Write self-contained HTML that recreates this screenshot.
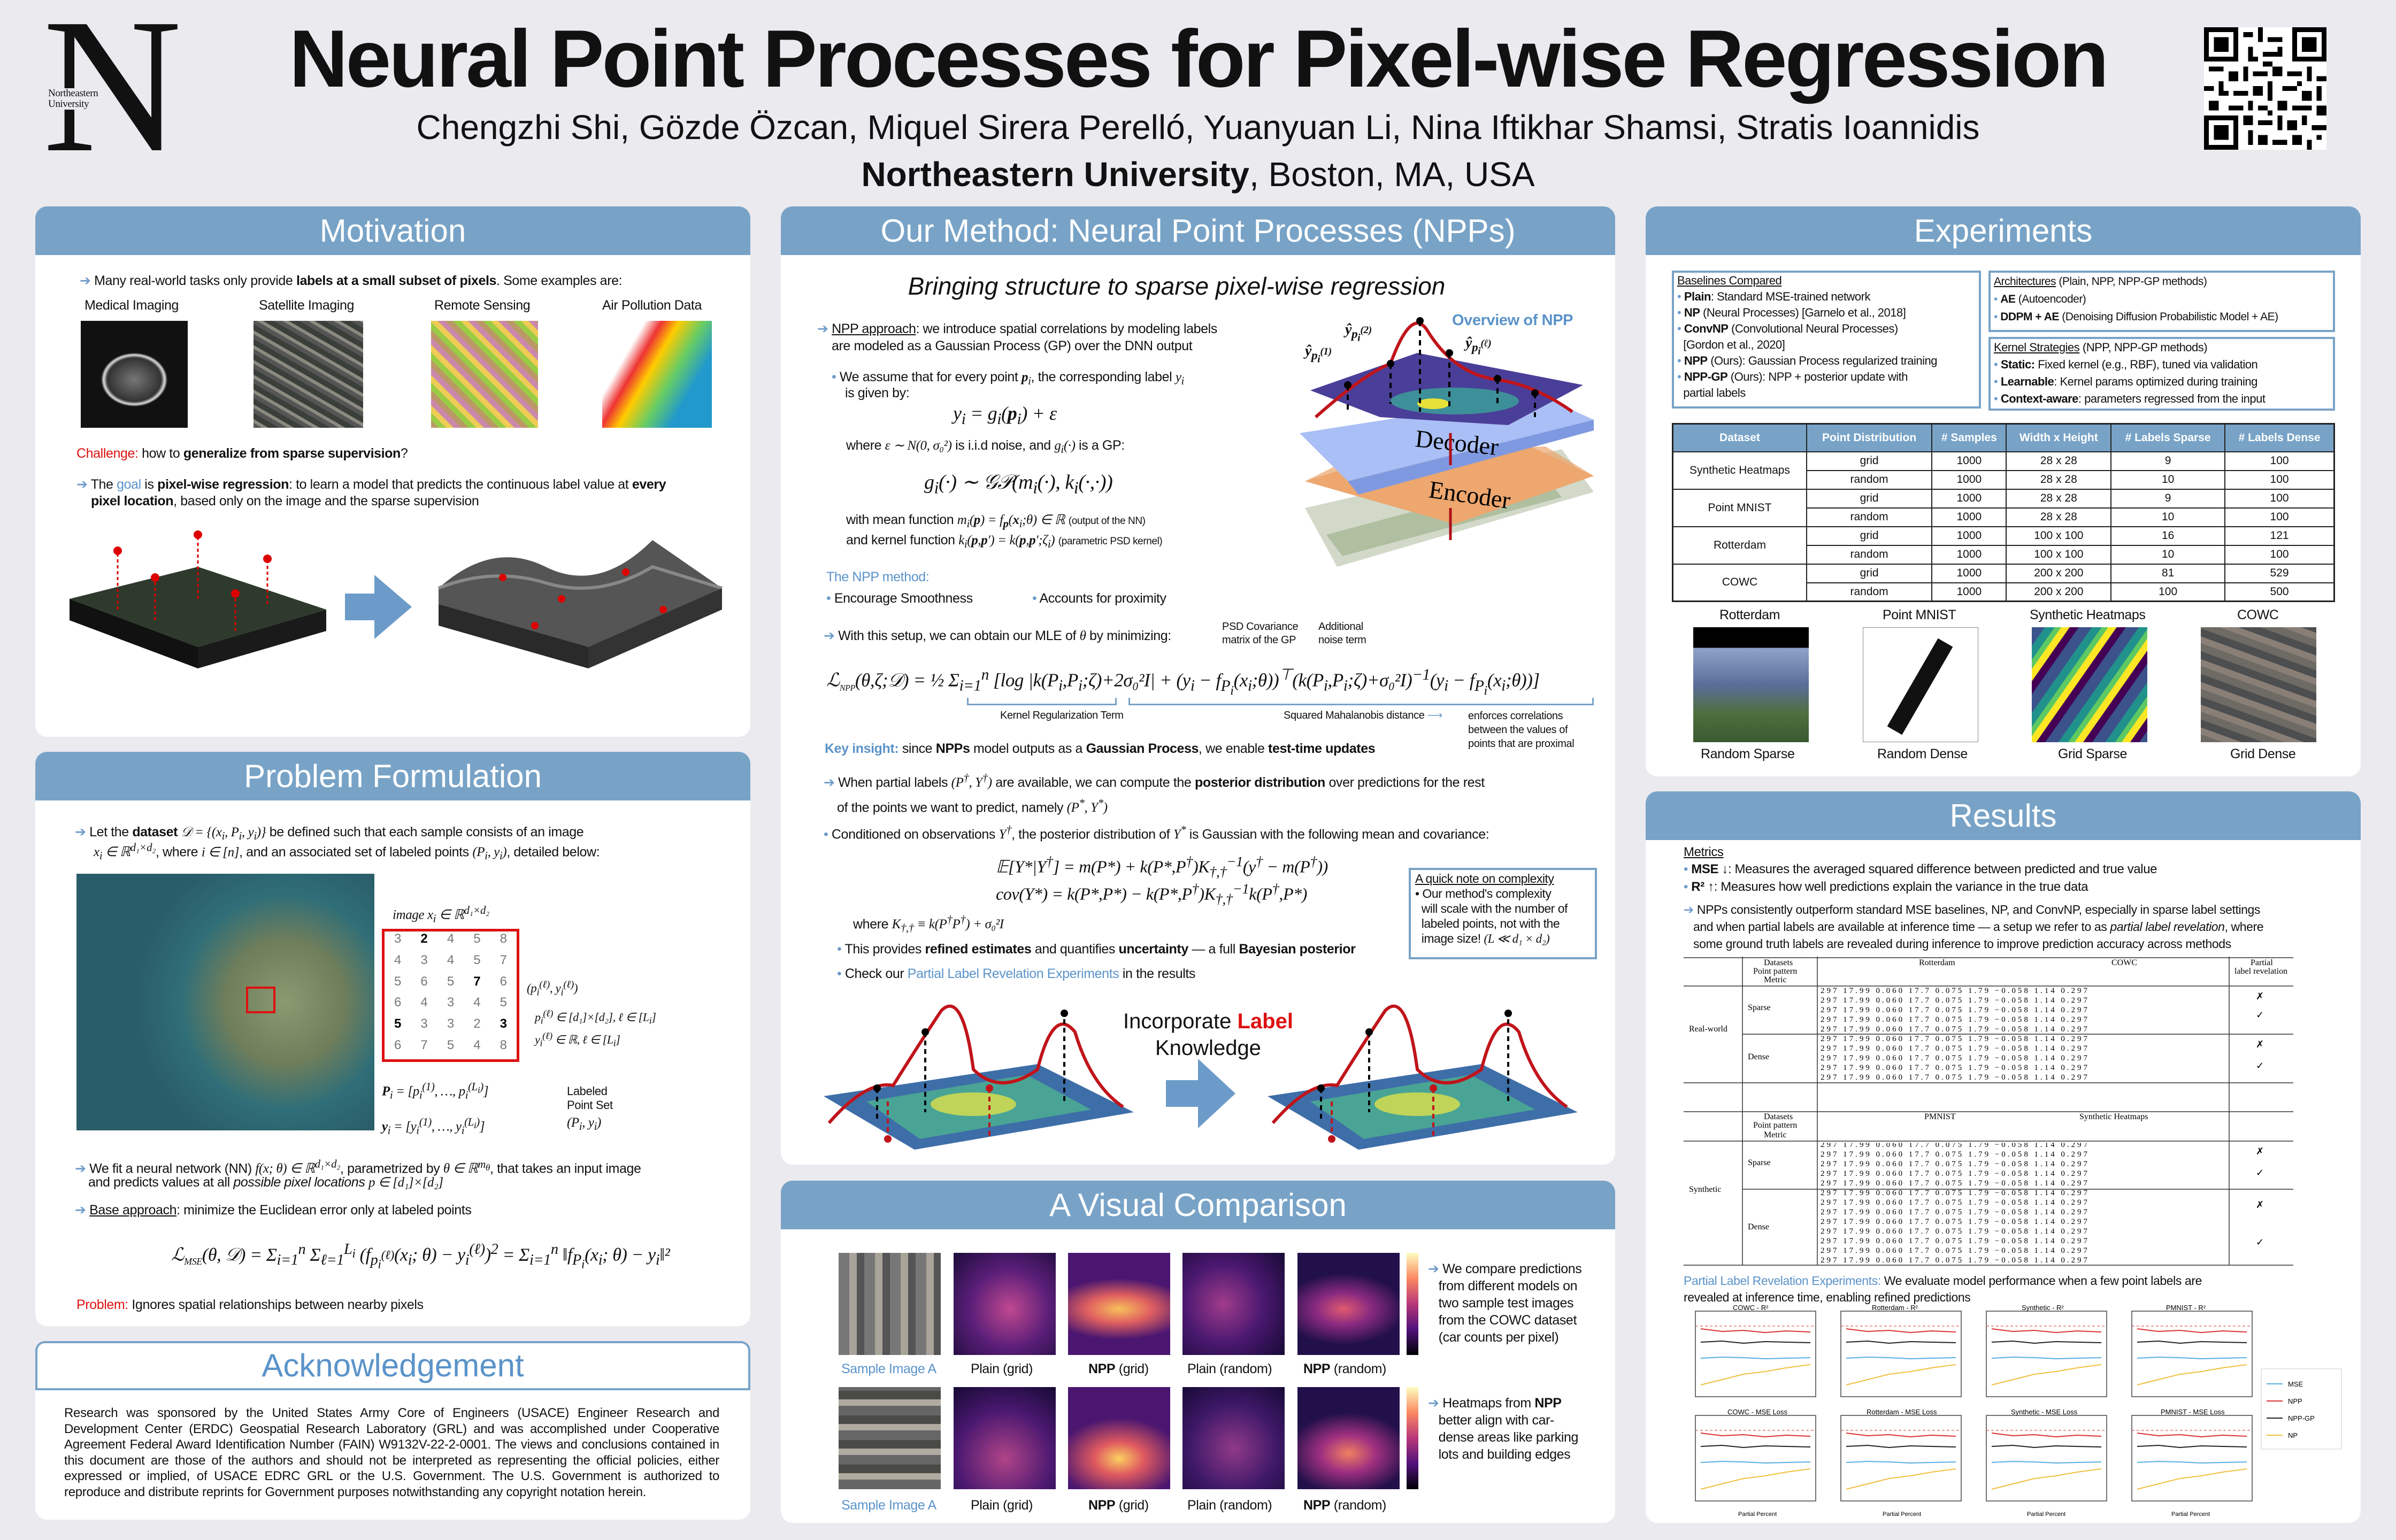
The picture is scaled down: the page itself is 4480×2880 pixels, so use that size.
<!DOCTYPE html>
<html><head><meta charset="utf-8"><style>
*{margin:0;padding:0;box-sizing:border-box}
body{width:4480px;height:2880px;background:#ebeaef;position:relative;overflow:hidden;font-family:"Liberation Sans Narrow","Liberation Sans",sans-serif;color:#111}
.t{position:absolute;white-space:nowrap;font-size:25px;line-height:1.2;letter-spacing:-0.4px}
.p{position:absolute;background:#fff;border-radius:22px;overflow:hidden}
.h{position:absolute;left:0;right:0;top:0;height:91px;background:#78a3c7;color:#fff;text-align:center;font-size:60px;line-height:91px}
.b{position:absolute}
.ar{color:#6d9bc9}
.bl{color:#5b93c9}
.red{color:#d11}
.m{font-family:"Liberation Serif",serif;font-style:italic}
.box{position:absolute;border:4px solid #78a3c7;background:#fff;letter-spacing:-0.5px}
table{border-collapse:collapse}
</style></head><body>

<!-- Header -->
<div class="t" style="left:80px;top:-30px;font-family:'Liberation Serif',serif;font-size:360px;line-height:380px;letter-spacing:0">N</div>
<div class="t" style="left:90px;top:165px;font-family:'Liberation Serif',serif;font-size:19px;line-height:20px;background:#ebeaef">Northeastern<br>University</div>
<div class="t" style="left:0;width:4480px;text-align:center;top:25px;font-size:152px;font-weight:bold;line-height:170px;padding-left:0;font-family:'Liberation Sans',sans-serif;letter-spacing:-4px">Neural Point Processes for Pixel-wise Regression</div>
<div class="t" style="left:0;width:4480px;text-align:center;top:200px;font-size:64px;font-family:'Liberation Sans',sans-serif;letter-spacing:0">Chengzhi Shi, Gözde Özcan, Miquel Sirera Perelló, Yuanyuan Li, Nina Iftikhar Shamsi, Stratis Ioannidis</div>
<div class="t" style="left:0;width:4480px;text-align:center;top:288px;font-size:64px;font-family:'Liberation Sans',sans-serif;letter-spacing:0"><b>Northeastern University</b>, Boston, MA, USA</div>
<svg class="b" style="left:4114px;top:51px" width="243" height="229" viewBox="0 0 25 25" shape-rendering="crispEdges">
<rect width="25" height="25" fill="#fff"/>
<g fill="#000">
<rect x="0" y="0" width="7" height="7"/><rect x="18" y="0" width="7" height="7"/><rect x="0" y="18" width="7" height="7"/>
<rect x="8" y="1" width="2" height="1"/><rect x="11" y="0" width="1" height="3"/><rect x="13" y="2" width="3" height="1"/><rect x="9" y="4" width="1" height="3"/><rect x="12" y="5" width="3" height="1"/><rect x="15" y="4" width="1" height="2"/>
<rect x="1" y="8" width="3" height="1"/><rect x="5" y="9" width="2" height="2"/><rect x="8" y="8" width="1" height="3"/><rect x="10" y="9" width="3" height="1"/><rect x="14" y="8" width="2" height="2"/><rect x="17" y="9" width="3" height="1"/><rect x="21" y="8" width="1" height="3"/><rect x="23" y="10" width="2" height="1"/>
<rect x="0" y="12" width="2" height="1"/><rect x="3" y="11" width="1" height="3"/><rect x="6" y="13" width="3" height="1"/><rect x="10" y="12" width="2" height="2"/><rect x="13" y="11" width="1" height="4"/><rect x="16" y="12" width="3" height="1"/><rect x="20" y="13" width="2" height="2"/><rect x="23" y="12" width="1" height="3"/>
<rect x="1" y="15" width="2" height="2"/><rect x="5" y="16" width="3" height="1"/><rect x="9" y="15" width="1" height="2"/><rect x="11" y="16" width="2" height="1"/><rect x="15" y="15" width="2" height="2"/><rect x="18" y="16" width="4" height="1"/><rect x="23" y="16" width="2" height="2"/>
<rect x="8" y="18" width="2" height="2"/><rect x="11" y="19" width="3" height="1"/><rect x="15" y="18" width="1" height="3"/><rect x="17" y="19" width="2" height="2"/><rect x="20" y="18" width="1" height="2"/><rect x="22" y="20" width="3" height="1"/>
<rect x="9" y="21" width="1" height="3"/><rect x="11" y="22" width="2" height="2"/><rect x="14" y="23" width="3" height="1"/><rect x="18" y="22" width="2" height="2"/><rect x="21" y="23" width="1" height="2"/><rect x="23" y="22" width="1" height="1"/>
<rect x="10" y="6" width="1" height="1"/><rect x="12" y="7" width="2" height="1"/><rect x="4" y="13" width="1" height="1"/><rect x="19" y="11" width="1" height="1"/><rect x="13" y="17" width="1" height="1"/>
</g>
<rect x="1" y="1" width="5" height="5" fill="#fff"/><rect x="19" y="1" width="5" height="5" fill="#fff"/><rect x="1" y="19" width="5" height="5" fill="#fff"/>
<rect x="2" y="2" width="3" height="3"/><rect x="20" y="2" width="3" height="3"/><rect x="2" y="20" width="3" height="3"/>
</svg>

<!-- Motivation -->
<div class="p" style="left:66px;top:386px;width:1337px;height:992px">
<div class="h">Motivation</div>
</div>
<div class="t" style="left:149px;top:510px"><span class="ar">➔</span> Many real-world tasks only provide <b>labels at a small subset of pixels</b>. Some examples are:</div>
<div class="t" style="left:158px;top:556px">Medical Imaging</div>
<div class="t" style="left:484px;top:556px">Satellite Imaging</div>
<div class="t" style="left:812px;top:556px">Remote Sensing</div>
<div class="t" style="left:1126px;top:556px">Air Pollution Data</div>
<div class="b" style="left:151px;top:600px;width:200px;height:200px;background:radial-gradient(ellipse 42% 34% at 50% 55%,#777 0,#333 60%,#ddd 68%,#111 74%)"></div>
<div class="b" style="left:474px;top:600px;width:205px;height:200px;background:repeating-linear-gradient(30deg,#555 0 8px,#8a8a80 8px 14px,#3a3f3a 14px 24px)"></div>
<div class="b" style="left:806px;top:600px;width:200px;height:200px;background:repeating-linear-gradient(45deg,#b96 0 10px,#9c4 10px 20px,#ec5 20px 30px,#c8a 30px 40px)"></div>
<div class="b" style="left:1126px;top:600px;width:205px;height:200px;background:linear-gradient(120deg,#fff 0 25%,#e33 35%,#fc0 45%,#6c6 60%,#29c 75%)"></div>
<div class="t" style="left:143px;top:833px"><span class="red">Challenge:</span> how to <b>generalize from sparse supervision</b>?</div>
<div class="t" style="left:143px;top:891px"><span class="ar">➔</span> The <span class="bl">goal</span> is <b>pixel-wise regression</b>: to learn a model that predicts the continuous label value at <b>every</b></div>
<div class="t" style="left:170px;top:922px"><b>pixel location</b>, based only on the image and the sparse supervision</div>
<svg class="b" style="left:120px;top:950px" width="1250" height="400">
<polygon points="10,170 250,110 490,190 250,260" fill="#2e3a2c"/>
<polygon points="10,170 250,260 250,300 10,210" fill="#111"/>
<polygon points="250,260 490,190 490,230 250,300" fill="#1a1a1a"/>
<g stroke="#d00" stroke-width="3" stroke-dasharray="6,5"><line x1="100" y1="190" x2="100" y2="80"/><line x1="250" y1="170" x2="250" y2="50"/><line x1="170" y1="210" x2="170" y2="130"/><line x1="380" y1="180" x2="380" y2="95"/><line x1="320" y1="230" x2="320" y2="160"/></g>
<g fill="#d00"><circle cx="100" cy="80" r="8"/><circle cx="250" cy="50" r="8"/><circle cx="170" cy="130" r="8"/><circle cx="380" cy="95" r="8"/><circle cx="320" cy="160" r="8"/></g>
<polygon points="525,160 580,160 580,125 650,185 580,245 580,210 525,210" fill="#6d9bc9"/>
<path d="M700,150 Q800,60 900,110 T1100,60 L1230,150 Q1100,210 980,260 Q850,230 700,180Z" fill="#555"/>
<path d="M700,150 Q800,110 900,140 T1100,110 L1230,150" stroke="#888" stroke-width="6" fill="none"/>
<polygon points="700,180 980,260 980,300 700,220" fill="#2a2a2a"/><polygon points="980,260 1230,150 1230,190 980,300" fill="#333"/>
<g fill="#d00"><circle cx="820" cy="130" r="7"/><circle cx="930" cy="170" r="7"/><circle cx="1050" cy="120" r="7"/><circle cx="1120" cy="190" r="7"/><circle cx="880" cy="220" r="7"/></g>
</svg>

<!-- Problem Formulation -->
<div class="p" style="left:66px;top:1406px;width:1337px;height:1074px">
<div class="h">Problem Formulation</div>
</div>
<div class="t" style="left:140px;top:1541px"><span class="ar">➔</span> Let the <b>dataset</b> <span class="m">𝒟 = {(x<sub>i</sub>, P<sub>i</sub>, y<sub>i</sub>)}</span> be defined such that each sample consists of an image</div>
<div class="t" style="left:175px;top:1573px"><span class="m">x<sub>i</sub> ∈ ℝ<sup>d₁×d₂</sup></span>, where <span class="m">i ∈ [n]</span>, and an associated set of labeled points <span class="m">(P<sub>i</sub>, y<sub>i</sub>)</span>, detailed below:</div>
<div class="b" style="left:143px;top:1634px;width:557px;height:480px;background:radial-gradient(ellipse 50% 60% at 70% 50%,#8a9a70 0,#6f7e5b 40%,#2f6e78 70%,#2a5d6a 100%)"></div>
<div class="b" style="left:460px;top:1845px;width:55px;height:50px;border:4px solid #d11"></div>
<div class="t m" style="left:734px;top:1690px">image x<sub>i</sub> ∈ ℝ<sup>d₁×d₂</sup></div>
<div class="b" style="left:714px;top:1737px;width:257px;height:249px;border:5px solid #d11;display:grid;grid-template-columns:repeat(5,1fr);font-size:24px;text-align:center;color:#777">
<div>3</div><div><b style="color:#000">2</b></div><div>4</div><div>5</div><div>8</div><div>4</div><div>3</div><div>4</div><div>5</div><div>7</div><div>5</div><div>6</div><div>5</div><div><b style="color:#000">7</b></div><div>6</div><div>6</div><div>4</div><div>3</div><div>4</div><div>5</div><div><b style="color:#000">5</b></div><div>3</div><div>3</div><div>2</div><div><b style="color:#000">3</b></div><div>6</div><div>7</div><div>5</div><div>4</div><div>8</div>
</div>
<div class="t m" style="left:985px;top:1830px;font-size:23px">(p<sub>i</sub><sup>(ℓ)</sup>, y<sub>i</sub><sup>(ℓ)</sup>)</div>
<div class="t m" style="left:1000px;top:1885px;font-size:22px">p<sub>i</sub><sup>(ℓ)</sup> ∈ [d₁]×[d₂], ℓ ∈ [L<sub>i</sub>]</div>
<div class="t m" style="left:1000px;top:1927px;font-size:22px">y<sub>i</sub><sup>(ℓ)</sup> ∈ ℝ, ℓ ∈ [L<sub>i</sub>]</div>
<div class="t m" style="left:714px;top:2020px"><b>P</b><sub>i</sub> = [p<sub>i</sub><sup>(1)</sup>, …, p<sub>i</sub><sup>(L<sub>i</sub>)</sup>]</div>
<div class="t m" style="left:714px;top:2086px"><b>y</b><sub>i</sub> = [y<sub>i</sub><sup>(1)</sup>, …, y<sub>i</sub><sup>(L<sub>i</sub>)</sup>]</div>
<div class="t" style="left:1060px;top:2028px;font-size:22px;line-height:26px">Labeled<br>Point Set</div>
<div class="t m" style="left:1060px;top:2085px">(P<sub>i</sub>, y<sub>i</sub>)</div>
<div class="t" style="left:140px;top:2165px"><span class="ar">➔</span> We fit a neural network (NN) <span class="m">f(x; θ) ∈ ℝ<sup>d₁×d₂</sup></span>, parametrized by <span class="m">θ ∈ ℝ<sup>m<sub>θ</sub></sup></span>, that takes an input image</div>
<div class="t" style="left:165px;top:2196px">and predicts values at all <i>possible pixel locations</i> <span class="m">p ∈ [d₁]×[d₂]</span></div>
<div class="t" style="left:140px;top:2248px"><span class="ar">➔</span> <u>Base approach</u>: minimize the Euclidean error only at labeled points</div>
<div class="t m" style="left:320px;top:2320px;font-size:34px">ℒ<sub style="font-size:18px">MSE</sub>(θ, 𝒟) = Σ<sub>i=1</sub><sup>n</sup> Σ<sub>ℓ=1</sub><sup>L<sub>i</sub></sup> (f<sub>p<sub>i</sub><sup>(ℓ)</sup></sub>(x<sub>i</sub>; θ) − y<sub>i</sub><sup>(ℓ)</sup>)<sup>2</sup> = Σ<sub>i=1</sub><sup>n</sup> ‖f<sub>P<sub>i</sub></sub>(x<sub>i</sub>; θ) − y<sub>i</sub>‖²</div>
<div class="t" style="left:143px;top:2425px"><span class="red">Problem:</span> Ignores spatial relationships between nearby pixels</div>

<!-- Acknowledgement -->
<div class="p" style="left:66px;top:2508px;width:1337px;height:334px"></div>
<div class="b" style="left:66px;top:2508px;width:1337px;height:92px;border:4px solid #78a3c7;border-radius:18px 18px 0 0;background:#fff;text-align:center;font-size:60px;line-height:84px;color:#5b93c9">Acknowledgement</div>
<div class="b" style="left:120px;top:2628px;width:1225px;font-size:24px;line-height:29.5px;text-align:justify;letter-spacing:-0.3px">Research was sponsored by the United States Army Core of Engineers (USACE) Engineer Research and Development Center (ERDC) Geospatial Research Laboratory (GRL) and was accomplished under Cooperative Agreement Federal Award Identification Number (FAIN) W9132V-22-2-0001. The views and conclusions contained in this document are those of the authors and should not be interpreted as representing the official policies, either expressed or implied, of USACE EDRC GRL or the U.S. Government. The U.S. Government is authorized to reproduce and distribute reprints for Government purposes notwithstanding any copyright notation herein.</div>

<!-- Our Method -->
<div class="p" style="left:1460px;top:386px;width:1560px;height:1792px">
<div class="h">Our Method: Neural Point Processes (NPPs)</div>
</div>
<div class="t" style="left:1460px;width:1480px;text-align:center;top:508px;font-size:46px;font-style:italic;letter-spacing:0">Bringing structure to sparse pixel-wise regression</div>
<div class="t" style="left:1528px;top:600px"><span class="ar">➔</span> <u>NPP approach</u>: we introduce spatial correlations by modeling labels</div>
<div class="t" style="left:1555px;top:632px">are modeled as a Gaussian Process (GP) over the DNN output</div>
<div class="t" style="left:1555px;top:690px"><span class="ar">•</span> We assume that for every point <span class="m"><b>p</b><sub>i</sub></span>, the corresponding label <span class="m">y<sub>i</sub></span></div>
<div class="t" style="left:1580px;top:720px">is given by:</div>
<div class="t m" style="left:1782px;top:752px;font-size:36px">y<sub>i</sub> = g<sub>i</sub>(<b>p</b><sub>i</sub>) + ε</div>
<div class="t" style="left:1582px;top:818px">where <span class="m">ε ∼ N(0, σ₀²)</span> is i.i.d noise, and <span class="m">g<sub>i</sub>(·)</span> is a GP:</div>
<div class="t m" style="left:1728px;top:880px;font-size:38px">g<sub>i</sub>(·) ∼ 𝒢𝒫(m<sub>i</sub>(·), k<sub>i</sub>(·,·))</div>
<div class="t" style="left:1582px;top:957px">with mean function <span class="m">m<sub>i</sub>(<b>p</b>) = f<sub><b>p</b></sub>(<b>x</b><sub>i</sub>;θ) ∈ ℝ</span> <span style="font-size:19px">(output of the NN)</span></div>
<div class="t" style="left:1582px;top:995px">and kernel function <span class="m">k<sub>i</sub>(<b>p</b>,<b>p</b>′) = k(<b>p</b>,<b>p</b>′;ζ<sub>i</sub>)</span> <span style="font-size:19px">(parametric PSD kernel)</span></div>
<div class="t bl" style="left:1545px;top:1064px">The NPP method:</div>
<div class="t" style="left:1545px;top:1104px"><span class="ar">•</span> Encourage Smoothness</div>
<div class="t" style="left:1930px;top:1104px"><span class="ar">•</span> Accounts for proximity</div>
<div class="t" style="left:1540px;top:1174px"><span class="ar">➔</span> With this setup, we can obtain our MLE of <span class="m">θ</span> by minimizing:</div>
<div class="t" style="left:2285px;top:1160px;font-size:20px;line-height:25px">PSD Covariance<br>matrix of the GP</div>
<div class="t" style="left:2465px;top:1160px;font-size:20px;line-height:25px">Additional<br>noise term</div>
<div class="t m" style="left:1545px;top:1245px;font-size:35px">ℒ<sub style="font-size:16px">NPP</sub>(θ,ζ;𝒟) = ½ Σ<sub>i=1</sub><sup>n</sup> [log |k(P<sub>i</sub>,P<sub>i</sub>;ζ)+2σ₀²I| + (y<sub>i</sub> − f<sub>P<sub>i</sub></sub>(x<sub>i</sub>;θ))<sup>⊤</sup>(k(P<sub>i</sub>,P<sub>i</sub>;ζ)+σ₀²I)<sup>−1</sup>(y<sub>i</sub> − f<sub>P<sub>i</sub></sub>(x<sub>i</sub>;θ))]</div>
<div class="b" style="left:1808px;top:1305px;width:280px;height:14px;border:3px solid #78a3c7;border-top:none"></div>
<div class="b" style="left:2110px;top:1305px;width:870px;height:14px;border:3px solid #78a3c7;border-top:none"></div>
<div class="t" style="left:1870px;top:1326px;font-size:20px">Kernel Regularization Term</div>
<div class="t" style="left:2400px;top:1326px;font-size:20px">Squared Mahalanobis distance <span class="ar">⟶</span></div>
<div class="t" style="left:2745px;top:1326px;font-size:20px;line-height:26px">enforces correlations<br>between the values of<br>points that are proximal</div>
<div class="t" style="left:1542px;top:1385px"><b class="bl">Key insight:</b> since <b>NPPs</b> model outputs as a <b>Gaussian Process</b>, we enable <b>test-time updates</b></div>
<div class="t" style="left:1540px;top:1443px"><span class="ar">➔</span> When partial labels <span class="m">(P<sup>†</sup>, Y<sup>†</sup>)</span> are available, we can compute the <b>posterior distribution</b> over predictions for the rest</div>
<div class="t" style="left:1565px;top:1490px">of the points we want to predict, namely <span class="m">(P<sup>*</sup>, Y<sup>*</sup>)</span></div>
<div class="t" style="left:1540px;top:1540px"><span class="ar">•</span> Conditioned on observations <span class="m">Y<sup>†</sup></span>, the posterior distribution of <span class="m">Y<sup>*</sup></span> is Gaussian with the following mean and covariance:</div>
<div class="t m" style="left:1862px;top:1595px;font-size:32px">𝔼[Y*|Y<sup>†</sup>] = m(P*) + k(P*,P<sup>†</sup>)K<sub>†,†</sub><sup>−1</sup>(y<sup>†</sup> − m(P<sup>†</sup>))</div>
<div class="t m" style="left:1862px;top:1646px;font-size:32px">cov(Y*) = k(P*,P*) − k(P*,P<sup>†</sup>)K<sub>†,†</sub><sup>−1</sup>k(P<sup>†</sup>,P*)</div>
<div class="t" style="left:1595px;top:1708px">where <span class="m">K<sub>†,†</sub> ≡ k(P<sup>†</sup>P<sup>†</sup>) + σ₀²I</span></div>
<div class="t" style="left:1565px;top:1760px"><span class="ar">•</span> This provides <b>refined estimates</b> and quantifies <b>uncertainty</b> — a full <b>Bayesian posterior</b></div>
<div class="t" style="left:1565px;top:1806px"><span class="ar">•</span> Check our <span class="bl">Partial Label Revelation Experiments</span> in the results</div>
<div class="box" style="left:2634px;top:1623px;width:352px;height:171px;padding:2px 8px;font-size:23px;line-height:28px"><u>A quick note on complexity</u><br>• Our method's complexity<br>&nbsp;&nbsp;will scale with the number of<br>&nbsp;&nbsp;labeled points, not with the<br>&nbsp;&nbsp;image size! <span class="m">(L ≪ d₁ × d₂)</span></div>
<!-- overview figure -->
<div class="t bl" style="left:2715px;top:582px;font-weight:bold;font-size:29px">Overview of NPP</div>
<svg class="b" style="left:2420px;top:580px" width="600" height="500">
<polygon points="20,370 500,260 560,340 80,480" fill="#d2d9c9"/>
<polygon points="60,420 470,310 500,350 90,460" fill="#9fb38e" opacity=".7"/>
<polygon points="20,320 210,260 430,250 560,310 300,400" fill="#f1b07a"/>
<polygon points="130,265 470,255 560,310 300,400 20,320" fill="#eba46b" opacity=".7"/>
<polygon points="10,230 460,160 560,205 100,320" fill="#a9bff5"/>
<polygon points="100,320 560,205 560,225 120,345" fill="#7f99e0"/>
<polygon points="30,150 230,80 540,140 400,215 160,200" fill="#4a3f98"/>
<ellipse cx="300" cy="170" rx="120" ry="25" fill="#39a59a" opacity=".8"/>
<ellipse cx="260" cy="175" rx="30" ry="10" fill="#e6e23a"/>
<path d="M40,200 Q130,120 180,100 Q220,-10 250,40 Q300,120 380,130 Q450,140 520,190" stroke="#c0141a" stroke-width="6" fill="none"/>
<g stroke="#000" stroke-width="4" stroke-dasharray="10,8"><line x1="100" y1="140" x2="100" y2="190"/><line x1="180" y1="100" x2="180" y2="175"/><line x1="235" y1="20" x2="235" y2="190"/><line x1="290" y1="80" x2="290" y2="185"/><line x1="380" y1="128" x2="380" y2="180"/><line x1="450" y1="155" x2="450" y2="200"/></g>
<g fill="#000"><circle cx="100" cy="140" r="7"/><circle cx="180" cy="100" r="7"/><circle cx="235" cy="20" r="7"/><circle cx="290" cy="80" r="7"/><circle cx="380" cy="128" r="7"/><circle cx="450" cy="155" r="7"/></g>
<text x="225" y="255" font-family="Liberation Serif" font-size="46" transform="rotate(6 225 255)">Decoder</text>
<text x="250" y="350" font-family="Liberation Serif" font-size="46" transform="rotate(8 250 350)">Encoder</text>
<g stroke="#b01018" stroke-width="5"><line x1="292" y1="430" x2="292" y2="370"/><line x1="292" y1="290" x2="292" y2="230"/></g>
</svg>
<div class="t m" style="left:2440px;top:640px;font-weight:bold;font-size:28px">ŷ<sub>p<sub>i</sub><sup>(1)</sup></sub></div>
<div class="t m" style="left:2515px;top:600px;font-weight:bold;font-size:28px">ŷ<sub>p<sub>i</sub><sup>(2)</sup></sub></div>
<div class="t m" style="left:2740px;top:625px;font-weight:bold;font-size:28px">ŷ<sub>p<sub>i</sub><sup>(ℓ)</sup></sub></div>
<!-- bottom figures -->
<svg class="b" style="left:1520px;top:1850px" width="1490" height="320">
<g id="surf">
<polygon points="20,200 420,140 600,230 190,300" fill="#3e6ea8"/>
<polygon points="100,210 400,160 520,225 200,280" fill="#4cb290" opacity=".8"/>
<ellipse cx="300" cy="215" rx="80" ry="22" fill="#dde04a" opacity=".8"/>
<path d="M30,250 Q100,170 150,180 Q200,100 240,40 Q280,0 300,150 Q350,200 420,150 Q450,30 490,80 Q520,180 580,220" stroke="#c0141a" stroke-width="6" fill="none"/>
<g stroke="#000" stroke-width="4" stroke-dasharray="9,7"><line x1="120" y1="185" x2="120" y2="245"/><line x1="210" y1="80" x2="210" y2="230"/><line x1="470" y1="40" x2="470" y2="210"/></g>
<g stroke="#c0141a" stroke-width="4" stroke-dasharray="9,7"><line x1="330" y1="185" x2="330" y2="280"/><line x1="140" y1="210" x2="140" y2="280"/></g>
<g fill="#000"><circle cx="120" cy="185" r="7"/><circle cx="210" cy="80" r="7"/><circle cx="470" cy="45" r="7"/></g>
<g fill="#c0141a"><circle cx="330" cy="185" r="7"/><circle cx="140" cy="280" r="7"/></g>
</g>
<use href="#surf" x="830"/>
<polygon points="660,170 720,170 720,130 790,195 720,260 720,220 660,220" fill="#6d9bc9"/>
</svg>
<div class="t" style="left:2100px;top:1885px;font-size:40px;text-align:center;line-height:50px;letter-spacing:0">Incorporate <b class="red">Label</b><br>Knowledge</div>

<!-- Visual Comparison -->
<div class="p" style="left:1460px;top:2208px;width:1560px;height:640px">
<div class="h">A Visual Comparison</div>
</div>
<div class="b" style="left:1568px;top:2343px;width:191px;height:191px;background:repeating-linear-gradient(90deg,#777 0 20px,#a9a49a 20px 34px,#555 34px 48px)"></div>
<div class="b" style="left:1568px;top:2594px;width:191px;height:191px;background:repeating-linear-gradient(0deg,#666 0 18px,#b0aaa0 18px 30px,#4a4a46 30px 46px)"></div>
<div class="b" style="left:1783px;top:2343px;width:191px;height:191px;background:radial-gradient(circle at 55% 55%,#c04890 0,#5a1e78 50%,#1c0c3a 100%)"></div>
<div class="b" style="left:1997px;top:2343px;width:191px;height:191px;background:radial-gradient(ellipse 70% 30% at 50% 55%,#f7c05a 0,#e06060 45%,#4a1670 100%)"></div>
<div class="b" style="left:2211px;top:2343px;width:191px;height:191px;background:radial-gradient(circle at 40% 50%,#a03c8a 0,#4a1870 50%,#160a34 100%)"></div>
<div class="b" style="left:2426px;top:2343px;width:191px;height:191px;background:radial-gradient(ellipse 60% 35% at 45% 55%,#e05a70 0,#8a2a80 45%,#22104a 100%)"></div>
<div class="b" style="left:1783px;top:2594px;width:191px;height:191px;background:radial-gradient(circle at 50% 70%,#b04488 0,#4a1870 55%,#160a34 100%)"></div>
<div class="b" style="left:1997px;top:2594px;width:191px;height:191px;background:radial-gradient(ellipse 60% 40% at 50% 70%,#fbd060 0,#e05a60 40%,#4a1670 100%)"></div>
<div class="b" style="left:2211px;top:2594px;width:191px;height:191px;background:radial-gradient(circle at 50% 60%,#903a88 0,#3e1868 55%,#160a34 100%)"></div>
<div class="b" style="left:2426px;top:2594px;width:191px;height:191px;background:radial-gradient(ellipse 60% 40% at 50% 65%,#f08060 0,#a03080 45%,#22104a 100%)"></div>
<div class="b" style="left:2630px;top:2343px;width:22px;height:191px;background:linear-gradient(#fcfdbf,#fc8961,#b73779,#51127c,#000004)"></div>
<div class="b" style="left:2630px;top:2594px;width:22px;height:191px;background:linear-gradient(#fcfdbf,#fc8961,#b73779,#51127c,#000004)"></div>
<div class="t bl" style="left:1573px;top:2545px">Sample Image A</div>
<div class="t" style="left:1815px;top:2545px">Plain (grid)</div>
<div class="t" style="left:2035px;top:2545px"><b>NPP</b> (grid)</div>
<div class="t" style="left:2220px;top:2545px">Plain (random)</div>
<div class="t" style="left:2437px;top:2545px"><b>NPP</b> (random)</div>
<div class="t bl" style="left:1573px;top:2800px">Sample Image A</div>
<div class="t" style="left:1815px;top:2800px">Plain (grid)</div>
<div class="t" style="left:2035px;top:2800px"><b>NPP</b> (grid)</div>
<div class="t" style="left:2220px;top:2800px">Plain (random)</div>
<div class="t" style="left:2437px;top:2800px"><b>NPP</b> (random)</div>
<div class="t" style="left:2670px;top:2357px;line-height:32px"><span class="ar">➔</span> We compare predictions<br>&nbsp;&nbsp;&nbsp;from different models on<br>&nbsp;&nbsp;&nbsp;two sample test images<br>&nbsp;&nbsp;&nbsp;from the COWC dataset<br>&nbsp;&nbsp;&nbsp;(car counts per pixel)</div>
<div class="t" style="left:2670px;top:2608px;line-height:32px"><span class="ar">➔</span> Heatmaps from <b>NPP</b><br>&nbsp;&nbsp;&nbsp;better align with car-<br>&nbsp;&nbsp;&nbsp;dense areas like parking<br>&nbsp;&nbsp;&nbsp;lots and building edges</div>

<!-- Experiments -->
<div class="p" style="left:3077px;top:386px;width:1337px;height:1066px">
<div class="h">Experiments</div>
</div>
<div class="box" style="left:3126px;top:506px;width:578px;height:258px;padding:0 6px;font-size:22px;line-height:30px;white-space:nowrap"><u>Baselines Compared</u><br><span class="ar">•</span> <b>Plain</b>: Standard MSE-trained network<br><span class="ar">•</span> <b>NP</b> (Neural Processes) [Garnelo et al., 2018]<br><span class="ar">•</span> <b>ConvNP</b> (Convolutional Neural Processes)<br>&nbsp;&nbsp;[Gordon et al., 2020]<br><span class="ar">•</span> <b>NPP</b> (Ours): Gaussian Process regularized training<br><span class="ar">•</span> <b>NPP-GP</b> (Ours): NPP + posterior update with<br>&nbsp;&nbsp;partial labels</div>
<div class="box" style="left:3718px;top:506px;width:648px;height:115px;padding:0 6px;font-size:21px;line-height:33px;white-space:nowrap"><u>Architectures</u> (Plain, NPP, NPP-GP methods)<br><span class="ar">•</span> <b>AE</b> (Autoencoder)<br><span class="ar">•</span> <b>DDPM + AE</b> (Denoising Diffusion Probabilistic Model + AE)</div>
<div class="box" style="left:3718px;top:630px;width:648px;height:138px;padding:0 6px;font-size:22px;line-height:32px;white-space:nowrap"><u>Kernel Strategies</u> (NPP, NPP-GP methods)<br><span class="ar">•</span> <b>Static:</b> Fixed kernel (e.g., RBF), tuned via validation<br><span class="ar">•</span> <b>Learnable</b>: Kernel params optimized during training<br><span class="ar">•</span> <b>Context-aware</b>: parameters regressed from the input</div>
<table class="b" style="left:3126px;top:791px;width:1240px;font-size:21px;text-align:center;border:3px solid #222">
<tr style="background:#78a3c7;color:#fff;font-weight:bold;height:52px"><td style="border:2px solid #222">Dataset</td><td style="border:2px solid #222">Point Distribution</td><td style="border:2px solid #222"># Samples</td><td style="border:2px solid #222">Width x Height</td><td style="border:2px solid #222"># Labels Sparse</td><td style="border:2px solid #222"># Labels Dense</td></tr>
<tr style="height:35px"><td rowspan="2" style="border:2px solid #222">Synthetic Heatmaps</td><td style="border:2px solid #222">grid</td><td style="border:2px solid #222">1000</td><td style="border:2px solid #222">28 x 28</td><td style="border:2px solid #222">9</td><td style="border:2px solid #222">100</td></tr>
<tr style="height:35px"><td style="border:2px solid #222">random</td><td style="border:2px solid #222">1000</td><td style="border:2px solid #222">28 x 28</td><td style="border:2px solid #222">10</td><td style="border:2px solid #222">100</td></tr>
<tr style="height:35px"><td rowspan="2" style="border:2px solid #222">Point MNIST</td><td style="border:2px solid #222">grid</td><td style="border:2px solid #222">1000</td><td style="border:2px solid #222">28 x 28</td><td style="border:2px solid #222">9</td><td style="border:2px solid #222">100</td></tr>
<tr style="height:35px"><td style="border:2px solid #222">random</td><td style="border:2px solid #222">1000</td><td style="border:2px solid #222">28 x 28</td><td style="border:2px solid #222">10</td><td style="border:2px solid #222">100</td></tr>
<tr style="height:35px"><td rowspan="2" style="border:2px solid #222">Rotterdam</td><td style="border:2px solid #222">grid</td><td style="border:2px solid #222">1000</td><td style="border:2px solid #222">100 x 100</td><td style="border:2px solid #222">16</td><td style="border:2px solid #222">121</td></tr>
<tr style="height:35px"><td style="border:2px solid #222">random</td><td style="border:2px solid #222">1000</td><td style="border:2px solid #222">100 x 100</td><td style="border:2px solid #222">10</td><td style="border:2px solid #222">100</td></tr>
<tr style="height:35px"><td rowspan="2" style="border:2px solid #222">COWC</td><td style="border:2px solid #222">grid</td><td style="border:2px solid #222">1000</td><td style="border:2px solid #222">200 x 200</td><td style="border:2px solid #222">81</td><td style="border:2px solid #222">529</td></tr>
<tr style="height:35px"><td style="border:2px solid #222">random</td><td style="border:2px solid #222">1000</td><td style="border:2px solid #222">200 x 200</td><td style="border:2px solid #222">100</td><td style="border:2px solid #222">500</td></tr>
</table>
<div class="t" style="left:3215px;top:1135px">Rotterdam</div>
<div class="t" style="left:3520px;top:1135px">Point MNIST</div>
<div class="t" style="left:3795px;top:1135px">Synthetic Heatmaps</div>
<div class="t" style="left:4183px;top:1135px">COWC</div>
<div class="b" style="left:3166px;top:1173px;width:216px;height:215px;background:linear-gradient(#000 0 18%,#8fa4c8 18%,#5a6e9a 50%,#4f6f3e 75%,#3a5a30)"></div>
<div class="b" style="left:3483px;top:1173px;width:216px;height:215px;background:#fff;border:1px solid #888"><div style="position:absolute;left:90px;top:15px;width:32px;height:190px;background:#111;transform:rotate(30deg)"></div></div>
<div class="b" style="left:3799px;top:1173px;width:216px;height:215px;background:repeating-linear-gradient(125deg,#3b528b 0 20px,#21918c 20px 35px,#5ec962 35px 45px,#fde725 45px 58px,#440154 58px 72px)"></div>
<div class="b" style="left:4115px;top:1173px;width:216px;height:215px;background:repeating-linear-gradient(20deg,#6e6a64 0 14px,#8a7f76 14px 26px,#4c4e50 26px 40px)"></div>
<div class="t" style="left:3180px;top:1395px">Random Sparse</div>
<div class="t" style="left:3510px;top:1395px">Random Dense</div>
<div class="t" style="left:3848px;top:1395px">Grid Sparse</div>
<div class="t" style="left:4170px;top:1395px">Grid Dense</div>

<!-- Results -->
<div class="p" style="left:3077px;top:1480px;width:1337px;height:1368px">
<div class="h">Results</div>
</div>
<div class="t" style="left:3148px;top:1580px;font-size:24px"><u>Metrics</u></div>
<div class="t" style="left:3148px;top:1612px;font-size:24px"><span class="ar">•</span> <b>MSE ↓</b>: Measures the averaged squared difference between predicted and true value</div>
<div class="t" style="left:3148px;top:1645px;font-size:24px"><span class="ar">•</span> <b>R² ↑</b>: Measures how well predictions explain the variance in the true data</div>
<div class="t" style="left:3148px;top:1685px;font-size:23px;line-height:32px"><span class="ar">➔</span> NPPs consistently outperform standard MSE baselines, NP, and ConvNP, especially in sparse label settings<br>&nbsp;&nbsp;&nbsp;and when partial labels are available at inference time — a setup we refer to as <i>partial label revelation</i>, where<br>&nbsp;&nbsp;&nbsp;some ground truth labels are revealed during inference to improve prediction accuracy across methods</div>
<svg class="b" style="left:3148px;top:1789px" width="1140" height="580" font-family="Liberation Serif" font-size="15">
<defs><pattern id="rows" width="1140" height="18" patternUnits="userSpaceOnUse"><text x="5" y="14" textLength="750">Plain   1.79   −0.058   1.14   0.297   17.99   0.060   17.7   0.075   1.79   −0.058   1.14   0.297</text></pattern></defs>
<g stroke="#333" stroke-width="1.5">
<line x1="0" y1="2" x2="1140" y2="2"/><line x1="0" y1="55" x2="1140" y2="55"/><line x1="110" y1="145" x2="1140" y2="145"/><line x1="0" y1="236" x2="1140" y2="236"/>
<line x1="0" y1="290" x2="1140" y2="290"/><line x1="0" y1="345" x2="1140" y2="345"/><line x1="110" y1="435" x2="1140" y2="435"/><line x1="0" y1="577" x2="1140" y2="577"/>
<line x1="110" y1="0" x2="110" y2="577"/><line x1="250" y1="0" x2="250" y2="577"/><line x1="1020" y1="0" x2="1020" y2="577"/>
</g>
<g font-size="16">
<text x="440" y="16">Rotterdam</text><text x="800" y="16">COWC</text><text x="1060" y="16">Partial</text><text x="1030" y="32">label revelation</text>
<text x="150" y="16">Datasets</text><text x="130" y="32">Point pattern</text><text x="150" y="48">Metric</text>
<text x="10" y="140">Real-world</text><text x="120" y="100">Sparse</text><text x="120" y="192">Dense</text>
<text x="450" y="304">PMNIST</text><text x="740" y="304">Synthetic Heatmaps</text><text x="150" y="304">Datasets</text><text x="130" y="320">Point pattern</text><text x="150" y="338">Metric</text>
<text x="10" y="440">Synthetic</text><text x="120" y="390">Sparse</text><text x="120" y="510">Dense</text>
</g>
<rect x="255" y="58" width="760" height="176" fill="url(#rows)"/>
<rect x="255" y="348" width="760" height="226" fill="url(#rows)"/>
<g font-size="18"><text x="1070" y="80">✗</text><text x="1070" y="115">✓</text><text x="1070" y="170">✗</text><text x="1070" y="210">✓</text><text x="1070" y="370">✗</text><text x="1070" y="410">✓</text><text x="1070" y="470">✗</text><text x="1070" y="540">✓</text></g>
</svg>
<div class="t" style="left:3148px;top:2380px;font-size:23px;line-height:31px"><span class="bl">Partial Label Revelation Experiments:</span> We evaluate model performance when a few point labels are<br>revealed at inference time, enabling refined predictions</div>
<svg class="b" style="left:3140px;top:2440px" width="1260" height="400" font-family="Liberation Sans" font-size="13">
<g id="ch" fill="none">
<rect x="30" y="12" width="225" height="160" stroke="#444" stroke-width="1.5" fill="#fff"/>
<line x1="30" y1="40" x2="255" y2="40" stroke="#d33" stroke-dasharray="5,4"/>
<polyline points="40,45 80,50 120,48 160,52 200,49 245,51" stroke="#d33" stroke-width="2"/>
<polyline points="40,70 80,68 120,72 160,69 200,70 245,71" stroke="#222" stroke-width="2"/>
<polyline points="40,100 80,98 120,99 160,101 200,100 245,99" stroke="#5ab0e0" stroke-width="2"/>
<polyline points="40,150 80,140 120,130 160,125 200,118 245,112" stroke="#f0c040" stroke-width="2"/>
</g>
<use href="#ch" x="272"/><use href="#ch" x="544"/><use href="#ch" x="816"/>
<use href="#ch" y="195"/><use href="#ch" x="272" y="195"/><use href="#ch" x="544" y="195"/><use href="#ch" x="816" y="195"/>
<text x="100" y="10">COWC - R²</text><text x="360" y="10">Rotterdam - R²</text><text x="640" y="10">Synthetic - R²</text><text x="910" y="10">PMNIST - R²</text>
<text x="90" y="205">COWC - MSE Loss</text><text x="350" y="205">Rotterdam - MSE Loss</text><text x="620" y="205">Synthetic - MSE Loss</text><text x="900" y="205">PMNIST - MSE Loss</text>
<g font-size="11"><text x="110" y="395">Partial Percent</text><text x="380" y="395">Partial Percent</text><text x="650" y="395">Partial Percent</text><text x="920" y="395">Partial Percent</text></g>
<g transform="translate(1088,120)">
<rect x="0" y="0" width="150" height="150" fill="#fff" stroke="#ccc"/>
<line x1="10" y1="28" x2="40" y2="28" stroke="#5ab0e0" stroke-width="2"/><text x="50" y="33">MSE</text>
<line x1="10" y1="60" x2="40" y2="60" stroke="#d33" stroke-width="2"/><text x="50" y="65">NPP</text>
<line x1="10" y1="92" x2="40" y2="92" stroke="#222" stroke-width="2"/><text x="50" y="97">NPP-GP</text>
<line x1="10" y1="124" x2="40" y2="124" stroke="#f0c040" stroke-width="2"/><text x="50" y="129">NP</text>
</g>
</svg>

</body></html>
